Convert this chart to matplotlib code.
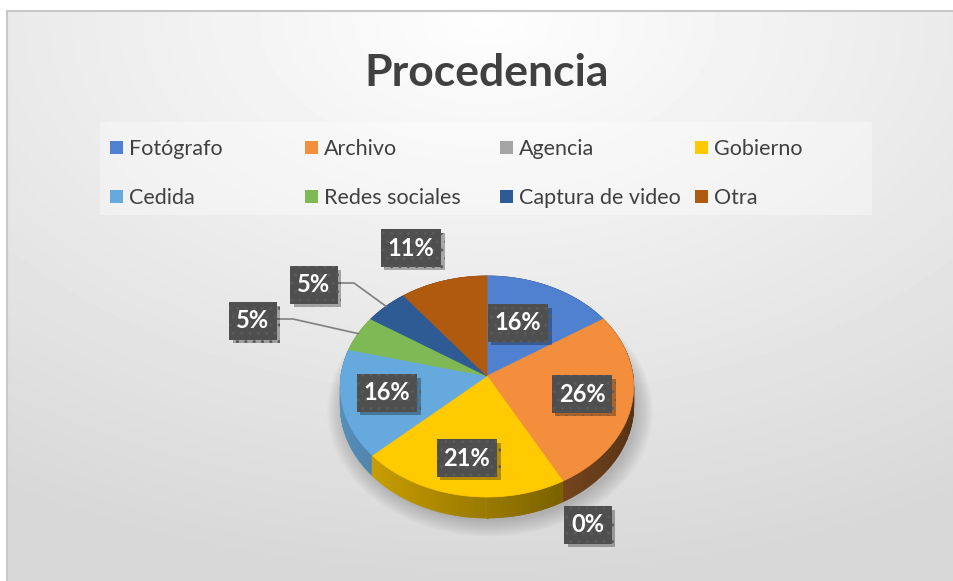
import numpy as np
import matplotlib
matplotlib.use("Agg")
import matplotlib.pyplot as plt
from matplotlib import patheffects
from matplotlib.colors import to_rgb
from matplotlib.patches import Polygon, Rectangle

CATEGORIES = [
    "Fotógrafo",
    "Archivo",
    "Agencia",
    "Gobierno",
    "Cedida",
    "Redes sociales",
    "Captura de video",
    "Otra",
]
COUNTS = [3, 5, 0, 4, 3, 1, 1, 2]
COLORS = [
    "#4F81D0",
    "#F28E3C",
    "#A5A5A5",
    "#FFCA00",
    "#66AADD",
    "#7FB955",
    "#2E5B93",
    "#B05A10",
]
TITLE = "Procedencia"

# where Excel put each data label (pixel centres)
LABEL_POS = {
    "Fotógrafo": (518, 323),
    "Archivo": (582, 394),
    "Agencia": (588, 525),
    "Gobierno": (467, 458),
    "Cedida": (387, 393),
    "Redes sociales": (253, 321),
    "Captura de video": (314, 285),
    "Otra": (411, 248),
}
LEADER = ["Redes sociales", "Captura de video"]

W, H = 954, 581
CX, CY = 487, 376
RX, RY = 146, 109.5
K = 0.095       # perspective
DEPTH = 19
FONT = "Lato"
TEXT_COLOR = "#404040"


def project(theta, r=1.0, drop=0.0):
    u = r * np.cos(theta)
    s = 1.0 / (1.0 + K * u)
    x = CX + RX * r * np.sin(theta) * s
    y = CY - RY * u * s + drop * s
    return x, y


def main():
    fig = plt.figure(figsize=(W / 100, H / 100), dpi=100)
    fig.patch.set_facecolor("white")
    ax = fig.add_axes([0, 0, 1, 1])
    ax.set_xlim(0, W)
    ax.set_ylim(H, 0)
    ax.axis("off")

    # chart area background
    yy, xx = np.mgrid[11:H, 7:W]
    d = np.clip(np.hypot((xx - 487) / 900.0, (yy - 20) / 560.0), 0, 1)
    v = 0.995 - 0.15 * d
    ax.imshow(v, cmap="gray", vmin=0, vmax=1, extent=(7, W, H, 11),
              aspect="auto", zorder=0, interpolation="bilinear")
    ax.plot([7, 7], [H, 11], color="#c8c8c8", lw=1.5, zorder=1)
    ax.plot([7, W], [11, 11], color="#c8c8c8", lw=1.5, zorder=1)

    ax.text(487, 86, TITLE, ha="center", va="baseline", fontsize=32,
            fontweight="bold", color=TEXT_COLOR, family=FONT, zorder=5)

    # legend
    ax.add_patch(Rectangle((100, 122), 772, 93, fc="white", alpha=0.35,
                           lw=0, zorder=2))
    for i, (name, col) in enumerate(zip(CATEGORIES, COLORS)):
        row, c = divmod(i, 4)
        x = 110 + 195 * c
        base = 155 + 49 * row
        ax.add_patch(Rectangle((x, base - 14), 13, 13, fc=col, lw=0,
                               zorder=3))
        ax.text(x + 19, base, name, ha="left", va="baseline", fontsize=15.5,
                color=TEXT_COLOR, family=FONT, zorder=3)

    counts = np.array(COUNTS, dtype=float)
    total = counts.sum()
    edges = np.concatenate([[0], np.cumsum(counts)]) / total * 2 * np.pi

    # soft shadow under the pie
    ts = np.linspace(0, 2 * np.pi, 240)
    for k in range(10):
        sx, sy = project(ts, 1.0 + 0.012 * k, DEPTH + 3)
        ax.add_patch(Polygon(np.column_stack([sx + 3, sy]), closed=True,
                             fc="black", alpha=0.018, lw=0, zorder=3))

    # side walls, back to front
    quads = []
    for i, col in enumerate(COLORS):
        a0, a1 = edges[i], edges[i + 1]
        if a1 - a0 <= 0:
            continue
        n = max(2, int(np.degrees(a1 - a0)) + 2)
        tt = np.linspace(a0, a1, n)
        base = np.array(to_rgb(col))
        for t0, t1 in zip(tt[:-1], tt[1:]):
            tm = 0.5 * (t0 + t1)
            x0, y0 = project(t0)
            x1, y1 = project(t1)
            bx0, by0 = project(t0, 1.0, DEPTH)
            bx1, by1 = project(t1, 1.0, DEPTH)
            b = 0.6 - 0.25 * np.sin(tm)
            shade = np.clip(base * b, 0, 1)
            pts = [(x0, y0), (x1, y1), (bx1, by1), (bx0, by0)]
            quads.append((np.cos(tm), pts, shade))
    quads.sort(key=lambda q: -q[0])
    for _, pts, shade in quads:
        ax.add_patch(Polygon(pts, closed=True, fc=shade, ec=shade, lw=0.6,
                             zorder=4))

    # top faces
    for i, col in enumerate(COLORS):
        a0, a1 = edges[i], edges[i + 1]
        if a1 - a0 <= 0:
            continue
        n = max(2, int(np.degrees(a1 - a0)) * 2 + 2)
        tt = np.linspace(a0, a1, n)
        px, py = project(tt)
        pts = np.vstack([[CX, CY], np.column_stack([px, py])])
        ax.add_patch(Polygon(pts, closed=True, fc=col, ec=col, lw=0.5,
                             zorder=5))

    # leader lines
    for name in LEADER:
        i = CATEGORIES.index(name)
        tm = 0.5 * (edges[i] + edges[i + 1])
        lx, ly = LABEL_POS[name]
        rx, ry = project(tm)
        ax.plot([lx, lx + 40, rx], [ly - 2, ly - 2, ry], color="#7f7f7f",
                lw=1.2, zorder=6)

    # data labels
    for i, name in enumerate(CATEGORIES):
        pct = int(round(100 * counts[i] / total))
        lx, ly = LABEL_POS[name]
        t = ax.text(lx, ly, f"{pct}%", ha="center", va="center", fontsize=17,
                    fontweight="bold", color="white", family=FONT, zorder=8,
                    bbox=dict(boxstyle="square,pad=0.3", fc="#4f4f4f",
                              ec="#5a5a5a", hatch="..", lw=0))
        t.get_bbox_patch().set_path_effects([
            patheffects.withSimplePatchShadow(offset=(2.5, -2.5),
                                              shadow_rgbFace="black",
                                              alpha=0.3),
            patheffects.Normal(),
        ])

    fig.savefig("out.png", dpi=100)
    plt.close(fig)


if __name__ == "__main__":
    main()
